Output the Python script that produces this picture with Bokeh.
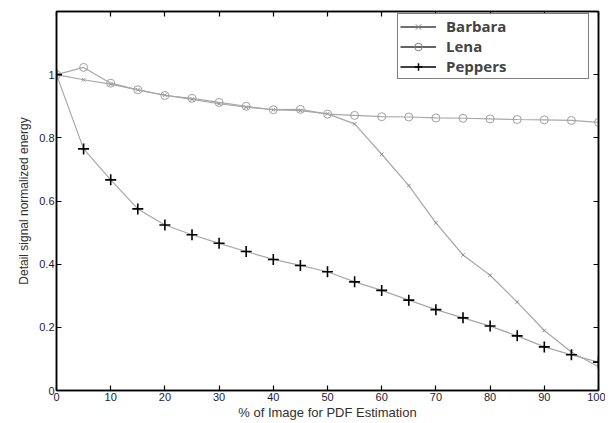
from bokeh.plotting import figure
from bokeh.models import Range1d, FixedTicker, LinearAxis, Legend, LegendItem
from bokeh.embed import file_html
from bokeh.resources import INLINE

pct = [0, 5, 10, 15, 20, 25, 30, 35, 40, 45, 50, 55, 60, 65, 70, 75, 80, 85, 90, 95, 100]
barbara = [1.0, 0.984, 0.97, 0.952, 0.935, 0.922, 0.908, 0.897, 0.889, 0.886, 0.876,
           0.844, 0.748, 0.649, 0.531, 0.429, 0.365, 0.280, 0.19, 0.122, 0.075]
lena = [1.0, 1.023, 0.973, 0.952, 0.934, 0.925, 0.912, 0.900, 0.889, 0.890, 0.875,
        0.871, 0.867, 0.866, 0.863, 0.862, 0.860, 0.858, 0.857, 0.855, 0.849]
peppers = [1.0, 0.765, 0.667, 0.575, 0.524, 0.493, 0.466, 0.440, 0.415, 0.396, 0.376,
           0.344, 0.317, 0.286, 0.256, 0.230, 0.204, 0.173, 0.138, 0.113, 0.090]
series_names = ["Barbara", "Lena", "Peppers"]

x_ticks = [0, 10, 20, 30, 40, 50, 60, 70, 80, 90, 100]
y_ticks = [0, 0.2, 0.4, 0.6, 0.8, 1.0]
y_labels = {0: "0", 0.2: "0.2", 0.4: "0.4", 0.6: "0.6", 0.8: "0.8", 1: "1"}

FONT = "Liberation Sans"
GRAY = "#a8a8a8"
NAN = [float("nan")]

p = figure(frame_width=542, frame_height=379, output_backend="svg", toolbar_location=None,
           x_range=Range1d(0, 100), y_range=Range1d(0, 1.2),
           min_border_left=56, min_border_right=7, min_border_top=11, min_border_bottom=30,
           x_axis_label="% of Image for PDF Estimation",
           y_axis_label="Detail signal normalized energy")
p.xgrid.visible = False
p.ygrid.visible = False
p.outline_line_color = "black"
p.outline_line_width = 1.5
p.background_fill_color = "white"
p.border_fill_color = "white"

p.add_layout(LinearAxis(), "above")
p.add_layout(LinearAxis(), "right")
for ax in p.axis:
    ax.major_tick_in = 5
    ax.major_tick_out = 0
    ax.minor_tick_line_color = None
    ax.axis_line_color = "black"
    ax.axis_line_width = 1.5
    ax.major_tick_line_width = 1.2
    ax.major_label_text_font = FONT
    ax.major_label_text_font_size = "11px"
    ax.major_label_text_color = "#1a1a40"
    ax.major_label_standoff = 2
    ax.axis_label_text_font = FONT
    ax.axis_label_text_font_style = "normal"
    ax.axis_label_text_color = "#303030"
    ax.axis_label_standoff = 1
for ax in p.xaxis:
    ax.ticker = FixedTicker(ticks=x_ticks)
for ax in p.yaxis:
    ax.ticker = FixedTicker(ticks=y_ticks)
    ax.major_label_overrides = y_labels
p.xaxis[0].axis_label_text_font_size = "13px"
p.yaxis[0].axis_label_text_font_size = "12px"
p.yaxis[0].axis_label_standoff = 5
for ax in p.above + p.right:
    ax.major_label_text_font_size = "0px"
    ax.major_label_text_color = None
    ax.major_label_standoff = 0

# data
p.line(pct, barbara, line_color=GRAY, line_width=1.2)
p.scatter(pct, barbara, marker="x", size=5, line_color="#909090", line_width=1)
p.line(pct, lena, line_color=GRAY, line_width=1.2)
p.scatter(pct, lena, marker="circle", size=8, line_color="#a0a0a0", fill_color=None, line_width=1)
p.line(pct, peppers, line_color=GRAY, line_width=1.2)
p.scatter(pct, peppers, marker="cross", size=11, line_color="black", line_width=1.6)

# legend proxies (NaN data, only drawn in legend)
lb = p.line(NAN, NAN, line_color="#404040", line_width=1.5)
mb = p.scatter(NAN, NAN, marker="x", size=5, line_color="#808080")
ll = p.line(NAN, NAN, line_color="#303030", line_width=1.5)
ml = p.scatter(NAN, NAN, marker="circle", size=7, line_color="#808080", fill_color=None)
lp = p.line(NAN, NAN, line_color="black", line_width=1.5)
mp = p.scatter(NAN, NAN, marker="cross", size=10, line_color="black", line_width=1.5)

legend = Legend(items=[LegendItem(label=series_names[0], renderers=[lb, mb]),
                       LegendItem(label=series_names[1], renderers=[ll, ml]),
                       LegendItem(label=series_names[2], renderers=[lp, mp])],
                location=(341, 311))
legend.label_text_font = "Open Sans"
legend.label_text_font_style = "bold"
legend.label_text_font_size = "15px"
legend.label_height = 19
legend.glyph_height = 19
legend.glyph_width = 36
legend.label_width = 140
legend.label_standoff = 10
legend.spacing = 0
legend.padding = 2
legend.margin = 0
legend.border_line_color = "black"
legend.border_line_width = 1.5
legend.background_fill_alpha = 1
p.add_layout(legend, "center")

open("out.html", "w").write(file_html(p, INLINE))
